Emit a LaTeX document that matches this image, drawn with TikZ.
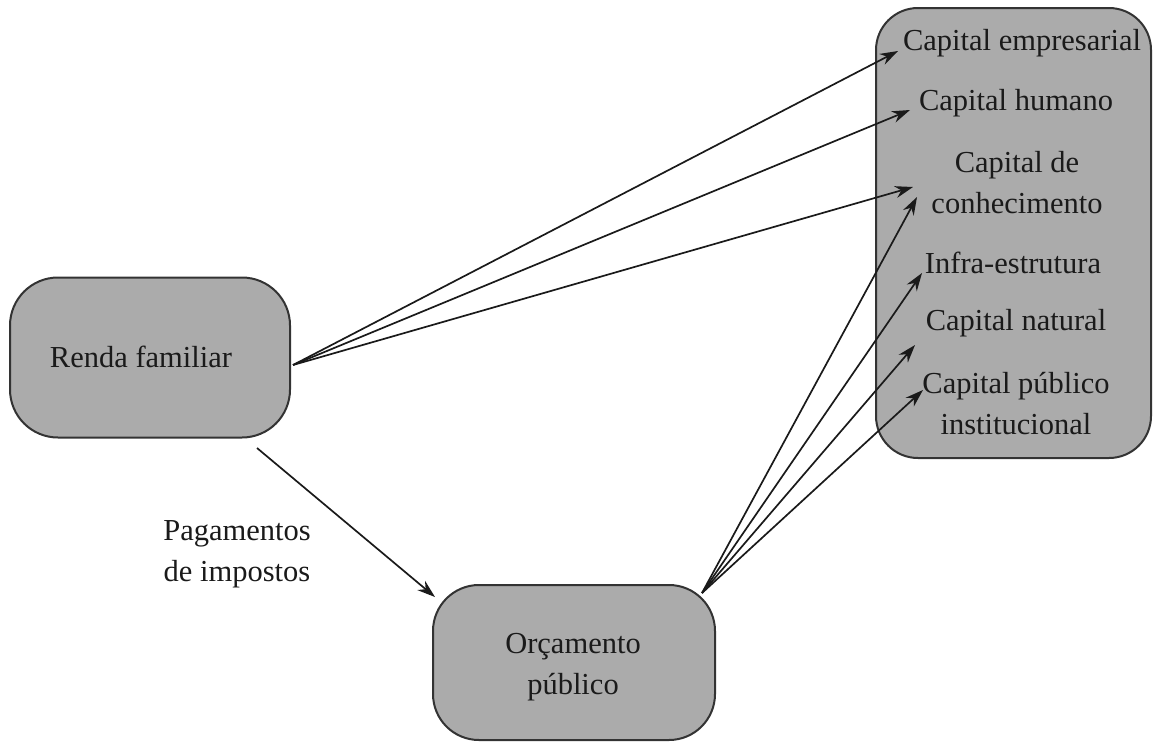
\documentclass[tikz,border=0pt]{standalone}
\usepackage{fontspec}
\setmainfont{Liberation Serif}
\usetikzlibrary{arrows.meta}
\definecolor{boxgray}{HTML}{ABABAB}
\definecolor{edgegray}{HTML}{333333}
\definecolor{inkgray}{HTML}{1A1A1A}
\begin{document}
\begin{tikzpicture}[x=1pt,y=-1pt,
  box/.style={draw=edgegray, line width=2pt, fill=boxgray, inner sep=0pt},
  lbl/.style={font=\fontsize{30.5}{41}\selectfont, align=center, inner sep=0pt, text=inkgray},
  arr/.style={line width=1.7pt, draw=inkgray, -{Stealth[length=18pt,width=12pt]}}]
\useasboundingbox (0,0) rectangle (1153,742);
% boxes
\node[box, rounded corners=48pt, minimum width=280pt, minimum height=160pt] (renda) at (150,357.5) {};
\node[box, rounded corners=46pt, minimum width=282pt, minimum height=155pt] (orc) at (574,662.5) {};
\node[box, rounded corners=42pt, minimum width=275pt, minimum height=450pt] (cap) at (1013.5,233) {};
% labels
\node[lbl] (trenda) at (141,357) {Renda familiar};
\node[lbl] (torc) at (573,667) {Orçamento\\público};
\node[lbl] (emp) at (1022,43) {Capital empresarial};
\node[lbl] (hum) at (1016,103) {Capital humano};
\node[lbl] (con) at (1017,183) {Capital de\\conhecimento};
\node[lbl] (inf) at (1013,263) {Infra-estrutura};
\node[lbl] (nat) at (1016,323) {Capital natural};
\node[lbl] (pub) at (1016,404) {Capital público\\institucional};
\node[lbl] (pag) at (237,554) {Pagamentos\\de impostos};
% connector end points
\coordinate (rs) at (293,365);
\coordinate (os) at (702,593);
\coordinate (ps) at (257,448);
\coordinate (pe) at (435,597);
\coordinate (empT) at (898,51);
\coordinate (humT) at (910,110);
\coordinate (conT) at (913,187);
\coordinate (conT2) at (917,197);
\coordinate (infT) at (922,273);
\coordinate (natT) at (915,345);
\coordinate (pubT) at (923,390);
% connectors
\draw[arr] (rs) -- (empT);
\draw[arr] (rs) -- (humT);
\draw[arr] (rs) -- (conT);
\draw[arr] (os) -- (conT2);
\draw[arr] (os) -- (infT);
\draw[arr] (os) -- (natT);
\draw[arr] (os) -- (pubT);
\draw[arr] (ps) -- (pe);
\end{tikzpicture}
\end{document}
